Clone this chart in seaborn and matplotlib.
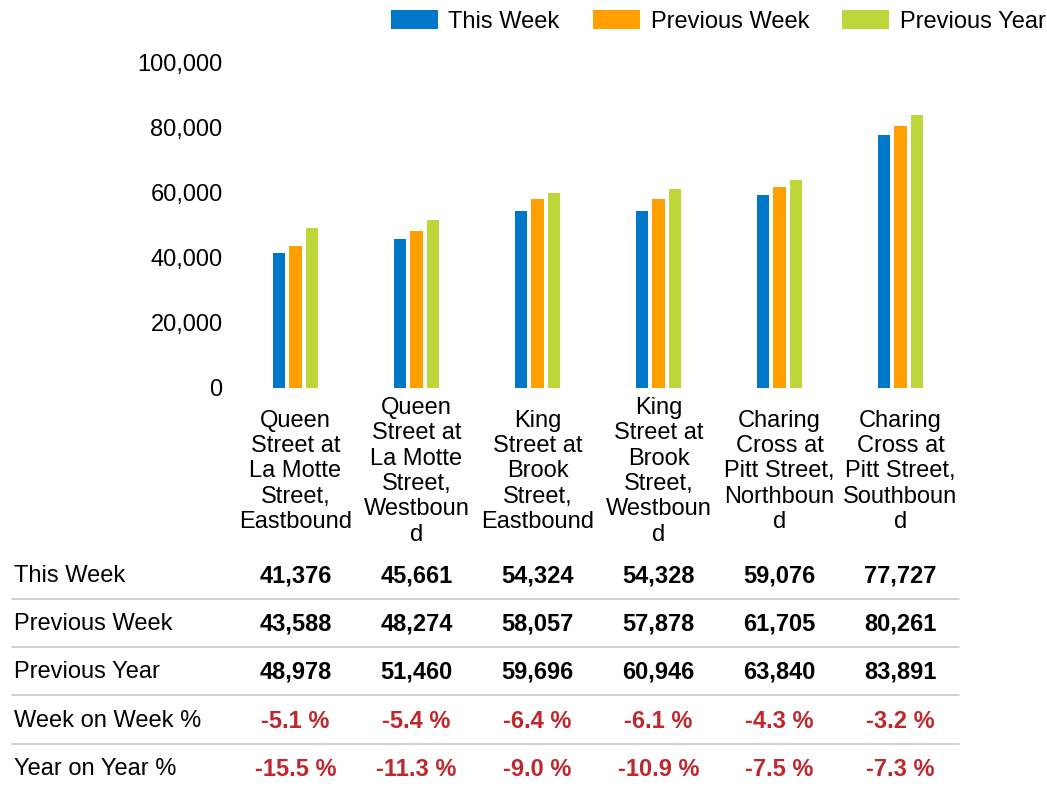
import pandas as pd
import matplotlib
matplotlib.use("Agg")
import matplotlib.pyplot as plt
import seaborn as sns
from matplotlib.lines import Line2D
from matplotlib.transforms import blended_transform_factory

# data
locations = [
    "Queen\nStreet at\nLa Motte\nStreet,\nEastbound",
    "Queen\nStreet at\nLa Motte\nStreet,\nWestboun\nd",
    "King\nStreet at\nBrook\nStreet,\nEastbound",
    "King\nStreet at\nBrook\nStreet,\nWestboun\nd",
    "Charing\nCross at\nPitt Street,\nNorthboun\nd",
    "Charing\nCross at\nPitt Street,\nSouthboun\nd",
]
this_week = [41376, 45661, 54324, 54328, 59076, 77727]
previous_week = [43588, 48274, 58057, 57878, 61705, 80261]
previous_year = [48978, 51460, 59696, 60946, 63840, 83891]
week_on_week = [-5.1, -5.4, -6.4, -6.1, -4.3, -3.2]
year_on_year = [-15.5, -11.3, -9.0, -10.9, -7.5, -7.3]
series_names = ["This Week", "Previous Week", "Previous Year"]
colors = ["#0077C8", "#FFA000", "#BDD63A"]

# long form for seaborn
rows = []
for name, vals in zip(series_names, [this_week, previous_week, previous_year]):
    for loc, v in zip(locations, vals):
        rows.append({"Location": loc, "Series": name, "Value": v})
df = pd.DataFrame(rows)

sns.set_style("white")
plt.rcParams["font.family"] = ["Liberation Sans", "DejaVu Sans"]
plt.rcParams["text.color"] = "black"
plt.rcParams["xtick.color"] = "black"
plt.rcParams["ytick.color"] = "black"
FS = 17

W, H = 1047, 789
fig = plt.figure(figsize=(W / 100, H / 100), dpi=100)
ax = fig.add_axes([235 / W, (H - 388) / H, (961 - 235) / W, (388 - 62) / H])

sns.barplot(data=df, x="Location", y="Value", hue="Series",
            palette=colors, saturation=1, width=0.4, gap=0.25, linewidth=0,
            order=locations, hue_order=series_names, ax=ax)

ax.set_xlim(-0.5, len(locations) - 0.5)
ax.set_ylim(0, 100000)
ax.set_yticks(range(0, 100001, 20000))
ax.set_yticklabels([f"{t:,}" for t in range(0, 100001, 20000)], fontsize=FS)
ax.set_xticks(range(len(locations)))
ax.set_xticklabels(locations, fontsize=FS, va="center", linespacing=1.2)
ax.tick_params(axis="x", length=0, pad=60)
ax.tick_params(axis="y", length=0, pad=9)
ax.set_xlabel("")
ax.set_ylabel("")
sns.despine(ax=ax, left=True, bottom=True)

ax.legend(loc="upper right", bbox_to_anchor=(1060 / W, 1.005),
          bbox_transform=fig.transFigure, ncol=3, frameon=False,
          fontsize=FS, handlelength=2.0, handleheight=0.85,
          handletextpad=0.45, columnspacing=1.4, borderaxespad=0.2)

# table under the chart
tr = blended_transform_factory(ax.transData, fig.transFigure)
table_rows = [
    ("This Week", [f"{v:,}" for v in this_week], "black"),
    ("Previous Week", [f"{v:,}" for v in previous_week], "black"),
    ("Previous Year", [f"{v:,}" for v in previous_year], "black"),
    ("Week on Week %", [f"{v:.1f} %" for v in week_on_week], "#C0272D"),
    ("Year on Year %", [f"{v:.1f} %" for v in year_on_year], "#C0272D"),
]
row_y = [576, 624, 672, 721, 769]
for r, ((label, vals, col), yy) in enumerate(zip(table_rows, row_y)):
    fy = 1 - yy / H
    fig.text(14 / W, fy, label, fontsize=FS, va="center", ha="left")
    for i, s in enumerate(vals):
        ax.text(i, fy, s, transform=tr, fontsize=FS, fontweight="bold",
                color=col, ha="center", va="center", clip_on=False)
    if r < len(table_rows) - 1:
        ly = 1 - (yy + 23) / H
        fig.add_artist(Line2D([12 / W, 959 / W], [ly, ly], transform=fig.transFigure,
                              color="#C8C8C8", linewidth=1.2))

fig.savefig("out.png", dpi=100)
